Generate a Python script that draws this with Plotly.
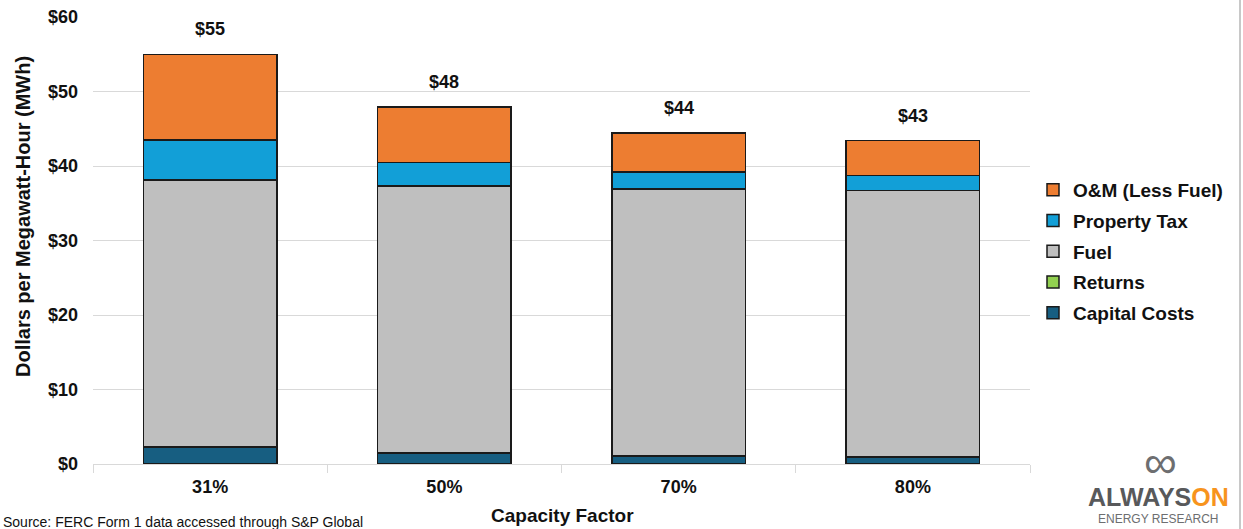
import plotly.graph_objects as go

categories = ["31%", "50%", "70%", "80%"]
capital_costs = [2.2, 1.45, 1.0, 0.85]
returns = [0.1, 0.1, 0.1, 0.1]
fuel = [35.8, 35.75, 35.8, 35.75]
property_tax = [5.4, 3.2, 2.3, 2.0]
om_less_fuel = [11.5, 7.4, 5.2, 4.7]
total_labels = ["$55", "$48", "$44", "$43"]
y_ticks = [0, 10, 20, 30, 40, 50, 60]
y_tick_labels = ["$0", "$10", "$20", "$30", "$40", "$50", "$60"]

series = [
    ("Capital Costs", capital_costs, "#175E81"),
    ("Returns", returns, "#92D050"),
    ("Fuel", fuel, "#BFBFBF"),
    ("Property Tax", property_tax, "#129FD7"),
    ("O&M (Less Fuel)", om_less_fuel, "#ED7D31"),
]

FONT = "Liberation Sans, Arial, sans-serif"
W, H = 1243, 529
L, R, T, B = 93, 213, 17, 65
PW, PH = W - L - R, H - T - B

def px_x(p):
    return (p - L) / PW

def px_y(p):
    return (H - B - p) / PH

fig = go.Figure()
n = len(series)
for i, (name, vals, color) in enumerate(series):
    fig.add_trace(go.Bar(
        x=categories, y=vals, name=f"<b>{name}</b>", legendgroup=name,
        legendrank=1000 + (n - i),
        marker=dict(color=color, line=dict(color="#1a1a1a", width=1.5)),
    ))

totals = [sum(s[1][i] for s in series) for i in range(len(categories))]
for c, t, lab in zip(categories, totals, total_labels):
    fig.add_annotation(x=c, y=t, text=f"<b>{lab}</b>", showarrow=False,
                       xanchor="center", yanchor="bottom", yshift=13,
                       font=dict(family=FONT, size=18, color="#111"))

fig.update_layout(
    width=W, height=H,
    margin=dict(l=L, r=R, t=T, b=B, autoexpand=False),
    barmode="stack", bargap=0.43,
    plot_bgcolor="white", paper_bgcolor="white",
    font=dict(family=FONT, size=18, color="#111"),
    legend=dict(
        x=px_x(1033), xanchor="left", y=px_y(171), yanchor="top",
        traceorder="grouped", tracegroupgap=3,
        font=dict(family=FONT, size=19, color="#111"),
        bgcolor="rgba(0,0,0,0)",
    ),
    showlegend=True,
)
fig.update_xaxes(
    showline=True, linecolor="#D9D9D9", linewidth=1,
    ticks="outside", tickson="boundaries", ticklen=8, tickcolor="#D9D9D9",
    tickfont=dict(family=FONT, size=18, color="#111"),
    ticklabelstandoff=6,
    tickprefix="<b>", ticksuffix="</b>",
)
fig.update_yaxes(
    range=[0, 60], tickvals=y_ticks,
    ticktext=[f"<b>{t}</b>" for t in y_tick_labels],
    showgrid=True, gridcolor="#D9D9D9", gridwidth=1.3,
    zeroline=False, showline=False,
    tickfont=dict(family=FONT, size=18, color="#111"),
    ticklabelstandoff=14,
)

# axis titles
fig.add_annotation(xref="paper", yref="paper", x=px_x(23), y=px_y(217),
                   xanchor="center", yanchor="middle",
                   text="<b>Dollars per Megawatt-Hour (MWh)</b>", textangle=-90,
                   showarrow=False, font=dict(family=FONT, size=20, color="#111"))
fig.add_annotation(xref="paper", yref="paper", x=px_x(562), y=px_y(515),
                   xanchor="center", yanchor="middle",
                   text="<b>Capacity Factor</b>", showarrow=False,
                   font=dict(family=FONT, size=19, color="#111"))
# source
fig.add_annotation(xref="paper", yref="paper", x=px_x(1), y=px_y(512),
                   xanchor="left", yanchor="top",
                   text="Source: FERC Form 1 data accessed through S&P Global", showarrow=False,
                   font=dict(family=FONT, size=14, color="#111"))
# logo
fig.add_annotation(xref="paper", yref="paper", x=px_x(1160), y=px_y(462),
                   xanchor="center", yanchor="middle",
                   text="∞", showarrow=False,
                   font=dict(family=FONT, size=46, color="#6d6e70"))
fig.add_annotation(xref="paper", yref="paper", x=px_x(1158), y=px_y(497),
                   xanchor="center", yanchor="middle",
                   text="<b><span style='color:#58595B'>ALWAYS</span><span style='color:#F7941D'>ON</span></b>",
                   showarrow=False,
                   font=dict(family=FONT, size=25))
fig.add_annotation(xref="paper", yref="paper", x=px_x(1158), y=px_y(519),
                   xanchor="center", yanchor="middle",
                   text="ENERGY RESEARCH", showarrow=False,
                   font=dict(family=FONT, size=12, color="#6d6e70"))
# right border line
fig.add_shape(type="line", xref="paper", yref="paper",
              x0=px_x(1240), x1=px_x(1240), y0=px_y(529), y1=px_y(0),
              line=dict(color="#C8C8C8", width=2))

fig.write_html("out.html")
